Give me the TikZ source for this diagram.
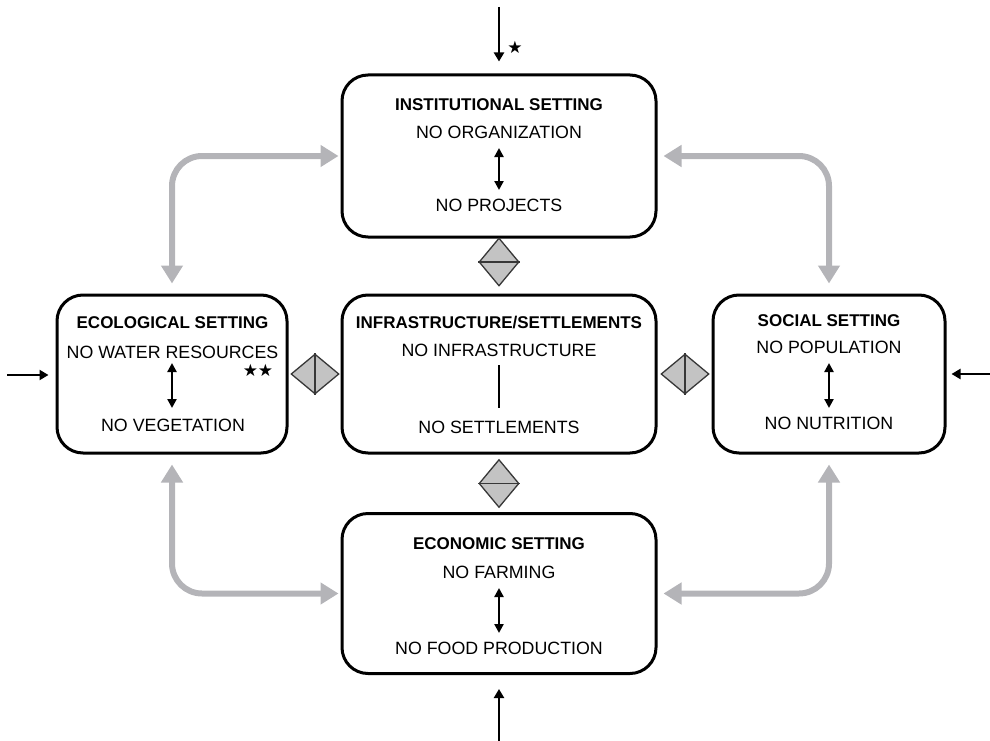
\documentclass[tikz,border=0pt]{standalone}
\usepackage{fontspec}
\setmainfont{Liberation Sans}
\newfontfamily\symfont{DejaVu Sans}
\usetikzlibrary{arrows.meta,shapes.geometric}
\definecolor{greyarr}{RGB}{180,180,184}
\definecolor{diafill}{RGB}{195,195,195}
\definecolor{diadraw}{RGB}{55,55,55}
\begin{document}
\begin{tikzpicture}[x=1pt,y=-1pt,
  setbox/.style={draw=black, line width=3pt, rounded corners=26pt, inner sep=0pt, minimum width=#1},
  head/.style={anchor=base, inner sep=0pt, font=\bfseries\fontsize{17}{20}\selectfont},
  txt/.style={anchor=base, inner sep=0pt, font=\fontsize{17.8}{20}\selectfont},
  grayconn/.style={draw=greyarr, line width=6pt, rounded corners=30pt, {Triangle[width=21pt,length=18pt]}-{Triangle[width=21pt,length=18pt]}},
  blackarr/.style={draw=black, line width=2.2pt, -{Triangle[width=10pt,length=9pt]}},
  inarr/.style={draw=black, line width=2.4pt, {Triangle[width=9pt,length=9pt]}-{Triangle[width=9pt,length=9pt]}},
  dia/.style={diamond, draw=diadraw, fill=diafill, line width=1.3pt, inner sep=0pt, minimum width=#1},
  starmark/.style={inner sep=0pt, font=\symfont\fontsize{17}{18}\selectfont}
]
\useasboundingbox (0,0) rectangle (990,741);

% boxes
\node[setbox=314pt, minimum height=162pt] (ins) at (499,156) {};
\node[setbox=230pt, minimum height=158pt] (eco) at (172,374) {};
\node[setbox=314pt, minimum height=158pt] (inf) at (499,374) {};
\node[setbox=232pt, minimum height=158pt] (soc) at (829,374) {};
\node[setbox=314pt, minimum height=160pt] (econ) at (499,593.5) {};

% grey connectors
\draw[grayconn, shorten <=10pt, shorten >=2pt] (eco.north) |- (ins.west);
\draw[grayconn, shorten <=10pt, shorten >=6pt] (soc.north) |- (ins.east);
\draw[grayconn, shorten <=10pt, shorten >=2pt] (eco.south) |- (econ.west);
\draw[grayconn, shorten <=10pt, shorten >=6pt] (soc.south) |- (econ.east);

% diamonds
\node[dia=40pt, minimum height=48pt] (dtop) at (499,262) {};
\draw[diadraw, line width=1.3pt] (dtop.west) -- (dtop.east);
\node[dia=40pt, minimum height=48pt] (dbot) at (499,483.5) {};
\draw[diadraw, line width=1.3pt] (dbot.west) -- (dbot.east);
\node[dia=48pt, minimum height=40pt] (dleft) at (315,374) {};
\draw[diadraw, line width=1.3pt] (dleft.north) -- (dleft.south);
\node[dia=48pt, minimum height=40pt] (dright) at (685,374) {};
\draw[diadraw, line width=1.3pt] (dright.north) -- (dright.south);

% outside arrows
\coordinate (intop) at (499,7);
\coordinate (inleft) at (7,375);
\coordinate (inright) at (990,374);
\coordinate (inbot) at (499,741);
\draw[blackarr, shorten >=12pt] (intop) -- (ins.north);
\draw[blackarr, shorten >=7pt] (inleft) -- (eco.west |- inleft);
\draw[blackarr, shorten >=5pt] (inright) -- (soc.east |- inright);
\draw[blackarr, shorten >=14pt] (inbot) -- (econ.south);
\node[starmark] (st1) at (515,47) {★};
\node[starmark] (st2) at (258,370) {★★};

% institutional
\node[head] (insh) at (499,111) {INSTITUTIONAL SETTING};
\node[txt] (ins1) at (499,139) {NO ORGANIZATION};
\node[txt] (ins2) at (499,211) {NO PROJECTS};
\coordinate (insa) at (499,148);
\coordinate (insb) at (499,190);
\draw[inarr] (insa) -- (insb);

% infrastructure
\node[head] (infh) at (499,328) {INFRASTRUCTURE/SETTLEMENTS};
\node[txt] (inf1) at (499,356) {NO INFRASTRUCTURE};
\node[txt] (inf2) at (499,433) {NO SETTLEMENTS};
\coordinate (infa) at (499,365);
\coordinate (infb) at (499,408);
\draw[draw=black, line width=2.4pt] (infa) -- (infb);

% ecological
\node[head] (ecoh) at (172.5,328) {ECOLOGICAL SETTING};
\node[txt] (eco1) at (172.5,358) {NO WATER RESOURCES};
\node[txt] (eco2) at (173,431) {NO VEGETATION};
\coordinate (ecoa) at (172,363);
\coordinate (ecob) at (172,408);
\draw[inarr] (ecoa) -- (ecob);

% social
\node[head] (soch) at (829,326) {SOCIAL SETTING};
\node[txt] (soc1) at (829,353) {NO POPULATION};
\node[txt] (soc2) at (829,429) {NO NUTRITION};
\coordinate (soca) at (829,363);
\coordinate (socb) at (829,408);
\draw[inarr] (soca) -- (socb);

% economic
\node[head] (econh) at (499,549) {ECONOMIC SETTING};
\node[txt] (econ1) at (499,578) {NO FARMING};
\node[txt] (econ2) at (499,654) {NO FOOD PRODUCTION};
\coordinate (econa) at (499,588);
\coordinate (econb) at (499,633);
\draw[inarr] (econa) -- (econb);
\end{tikzpicture}
\end{document}
